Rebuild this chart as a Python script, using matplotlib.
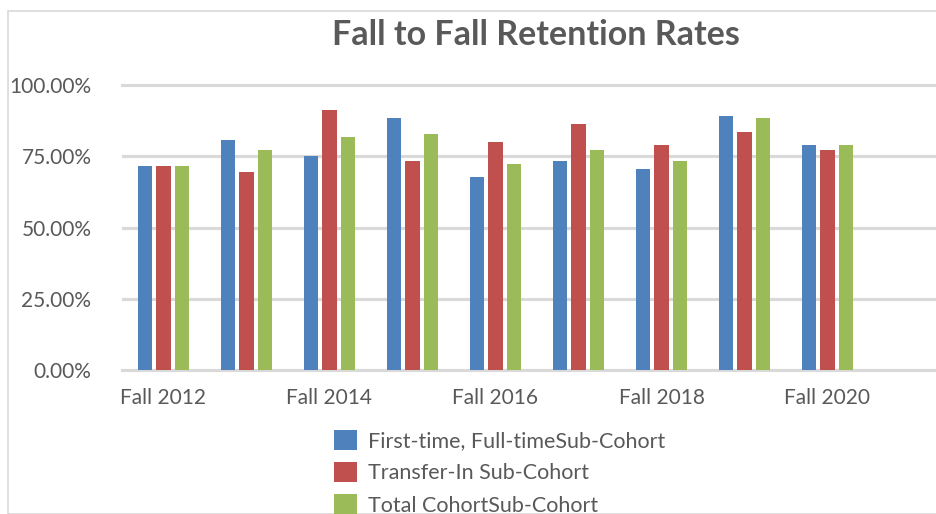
import matplotlib
matplotlib.use("Agg")
import matplotlib.pyplot as plt
import numpy as np
from matplotlib.patches import Rectangle
from matplotlib.ticker import FuncFormatter

categories = ["Fall 2012", "Fall 2013", "Fall 2014", "Fall 2015", "Fall 2016",
              "Fall 2017", "Fall 2018", "Fall 2019", "Fall 2020", "Fall 2021"]
first_time = [0.716, 0.807, 0.751, 0.884, 0.677, 0.733, 0.705, 0.891, 0.789, np.nan]
transfer_in = [0.716, 0.695, 0.912, 0.733, 0.800, 0.863, 0.789, 0.835, 0.772, np.nan]
total = [0.716, 0.772, 0.818, 0.828, 0.723, 0.772, 0.733, 0.884, 0.789, np.nan]
series_names = ["First-time, Full-timeSub-Cohort", "Transfer-In Sub-Cohort",
                "Total CohortSub-Cohort"]
colors = ["#4F81BD", "#C0504D", "#9BBB59"]
TXT = "#595959"
FONT = "Lato"

W, H = 937, 514
fig = plt.figure(figsize=(W / 100, H / 100), dpi=100)
plt.rcParams['font.family'] = [FONT, 'DejaVu Sans']

# chart area border
fig.patches.append(Rectangle((8 / W, 0), 2, (H - 11) / H, transform=fig.transFigure,
                             fill=False, edgecolor="#d9d9d9", linewidth=1.2, zorder=0))

left, right, top, bottom = 122, 952, 85, 370
ax = fig.add_axes([left / W, (H - bottom) / H, (right - left) / W, (bottom - top) / H])

x = np.arange(len(categories))
bw = 0.169
off = 0.223
for i, (vals, c, n) in enumerate(zip([first_time, transfer_in, total], colors, series_names)):
    ax.bar(x + (i - 1) * off, vals, width=bw, color=c, label=n, zorder=3)

ax.set_xlim(-0.5, len(categories) - 0.5)
ax.set_ylim(0, 1.0)
ax.set_yticks([0, 0.25, 0.5, 0.75, 1.0])
ax.yaxis.set_major_formatter(FuncFormatter(lambda v, p: f"{v*100:.2f}%"))
ax.grid(axis="y", color="#d9d9d9", linewidth=2.2, zorder=0)
ax.set_axisbelow(True)
for s in ["top", "right", "left"]:
    ax.spines[s].set_visible(False)
ax.spines["bottom"].set_color("#d9d9d9")
ax.spines["bottom"].set_linewidth(2.2)
ax.set_xticks(x[::2])
ax.set_xticklabels(categories[::2])
ax.tick_params(axis="both", length=0, colors=TXT, labelsize=15)
ax.tick_params(axis="y", pad=22)
ax.tick_params(axis="x", pad=13)
for t in ax.get_yticklabels() + ax.get_xticklabels():
    t.set_color(TXT)
ax.yaxis.get_major_ticks()[-1].gridline.set_clip_on(False)

fig.text(536 / W, 1 - 35 / H, "Fall to Fall Retention Rates", ha="center", va="center",
         fontsize=24.5, fontweight="bold", color=TXT)

handles, labels = ax.get_legend_handles_labels()
leg = fig.legend(handles, labels, loc="upper left", bbox_to_anchor=(334 / W, 1 - 430 / H),
                 frameon=False, fontsize=15.5, labelcolor=TXT, handlelength=1.05,
                 handleheight=1.05, handletextpad=0.55, labelspacing=0.5, borderpad=0,
                 borderaxespad=0)

fig.savefig("out.png", dpi=100, facecolor="white")
